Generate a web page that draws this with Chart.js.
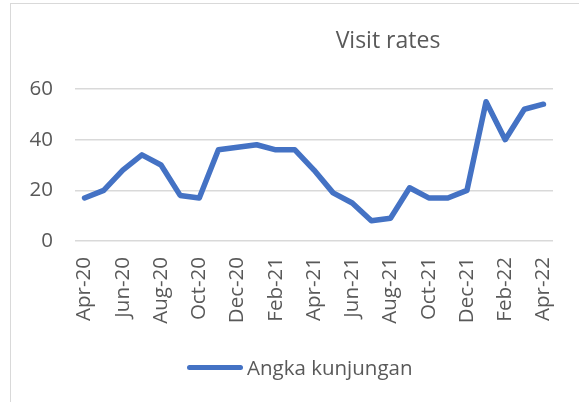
<!DOCTYPE html>
<html>
<head>
<meta charset="utf-8">
<script src="https://cdn.jsdelivr.net/npm/chart.js@4"></script>
<style>
  html, body { margin: 0; padding: 0; background: #fff; overflow: hidden; }
  #wrap { position: relative; width: 579px; height: 402px; overflow: hidden; }
  #frame { position: absolute; left: 10px; top: 3px; width: 700px; height: 500px; border: 1.5px solid #d9d9d9; box-sizing: border-box; }
  canvas { position: absolute; left: 0; top: 0; }
  .txt { position: absolute; font-family: "Open Sans", sans-serif; color: #595959; white-space: nowrap; }
  #title { font-size: 23px; line-height: 23px; top: 28px; left: 388px; transform: translateX(-50%); }
  #legend { font-size: 20.5px; line-height: 20.5px; top: 357px; left: 187px; display: flex; align-items: center; }
  #legend .swatch { width: 56px; height: 5px; border-radius: 3px; background: #4472c4; margin-right: 4px; margin-top: 1px; }
</style>
</head>
<body>
<div id="wrap">
  <div id="frame"></div>
  <canvas id="chart" width="579" height="402"></canvas>
  <div id="title" class="txt">Visit rates</div>
  <div id="legend" class="txt"><span class="swatch"></span><span id="legendLabel"></span></div>
</div>
<script>
// monthly visits, Apr 2020 - Apr 2022
const months = ['Apr-20', 'May-20', 'Jun-20', 'Jul-20', 'Aug-20', 'Sep-20', 'Oct-20', 'Nov-20', 'Dec-20',
    'Jan-21', 'Feb-21', 'Mar-21', 'Apr-21', 'May-21', 'Jun-21', 'Jul-21', 'Aug-21', 'Sep-21', 'Oct-21',
    'Nov-21', 'Dec-21', 'Jan-22', 'Feb-22', 'Mar-22', 'Apr-22'];
const visits = [17, 20, 28, 34, 30, 18, 17, 36, 37, 38, 36, 36, 28, 19, 15, 8, 9, 21, 17, 17, 20, 55, 40, 52, 54];
const shownMonths = ['Apr-20', 'Jun-20', 'Aug-20', 'Oct-20', 'Dec-20', 'Feb-21', 'Apr-21', 'Jun-21',
    'Aug-21', 'Oct-21', 'Dec-21', 'Feb-22', 'Apr-22'];
const yTicks = [0, 20, 40, 60];
const seriesName = 'Angka kunjungan';

document.getElementById('legendLabel').textContent = seriesName;

const tickFont = { family: 'Open Sans', size: 20.5 };

new Chart(document.getElementById('chart').getContext('2d'), {
    type: 'line',
    data: {
        labels: months,
        datasets: [{
            label: seriesName,
            data: visits,
            borderColor: '#4472c4',
            borderWidth: 5.5,
            pointRadius: 0,
            tension: 0,
            borderCapStyle: 'round',
            borderJoinStyle: 'round'
        }]
    },
    options: {
        responsive: false,
        animation: false,
        layout: { padding: { left: 0, top: 89, right: 26, bottom: 0 } },
        plugins: {
            legend: { display: false },
            title: { display: false },
            tooltip: { enabled: false }
        },
        scales: {
            x: {
                offset: true,
                grid: { display: false, drawTicks: false },
                border: { display: false },
                ticks: {
                    autoSkip: false,
                    minRotation: 90,
                    maxRotation: 90,
                    padding: 16,
                    color: '#595959',
                    font: tickFont,
                    callback: function (value) {
                        const label = this.getLabelForValue(value);
                        return shownMonths.includes(label) ? label : '';
                    }
                },
                afterFit: (scale) => {
                    scale.height = 161;
                    scale.paddingLeft = 0;
                    scale.paddingRight = 0;
                }
            },
            y: {
                min: yTicks[0],
                max: yTicks[yTicks.length - 1],
                ticks: { stepSize: yTicks[1] - yTicks[0], padding: 22, color: '#595959', font: tickFont },
                grid: { color: '#d9d9d9', lineWidth: 1.5, drawTicks: false },
                border: { display: false },
                afterFit: (scale) => { scale.width = 75; }
            }
        }
    }
});
</script>
</body>
</html>
